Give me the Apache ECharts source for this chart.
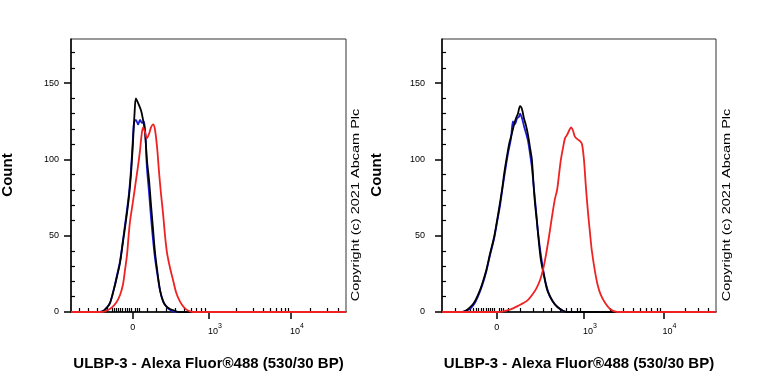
<!DOCTYPE html>
<html>
<head>
<meta charset="utf-8">
<script src="https://cdn.jsdelivr.net/npm/echarts@6/dist/echarts.min.js"></script>
<style>
html,body{margin:0;padding:0;background:#fff;}
#chart{width:768px;height:384px;}
</style>
</head>
<body>
<div id="chart"></div>
<script>
// x values are display channels (0-1000 across the logicle axis), y values are event counts
const leftBlack = [[0,0],[105,0],[120,1],[131,3],[142,6],[156,15],[167,23],[178,32],[189,46],[200,60],[211,76],[218,90],[225,110],[231,130],[236,140],[244,137],[255,132],[262,126],[269,118],[276,100],[284,86],[291,70],[298,55],[305,40],[313,28],[324,14],[335,7],[345,4],[360,2],[375,1],[389,0],[1000,0]];
const leftBlue = [[0,0],[105,0],[120,1],[131,3],[142,6],[156,15],[167,24],[178,33],[189,47],[200,62],[211,78],[218,93],[224,110],[229,124],[236,126],[244,123],[251,126],[258,124],[265,125],[271,115],[276,95],[284,78],[291,62],[298,48],[305,36],[313,26],[324,14],[335,7],[349,3],[364,1],[382,0],[1000,0]];
const leftRed = [[0,0],[113,0],[131,1],[149,3],[164,6],[178,11],[189,18],[196,27],[204,38],[209,49],[215,60],[225,72],[236,86],[244,96],[251,106],[256,115],[262,121],[269,118],[276,114],[284,117],[291,121],[298,123],[305,120],[313,108],[320,92],[327,78],[335,64],[342,50],[349,39],[360,29],[371,21],[382,13],[396,7],[411,3],[425,1],[444,0],[1000,0]];

const rightBlack = [[0,0],[73,0],[88,1],[102,3],[117,6],[131,11],[146,18],[161,27],[175,38],[190,49],[201,60],[212,72],[219,80],[228,92],[237,102],[246,111],[255,117],[263,123],[270,127],[277,130],[285,135],[292,133],[299,127],[307,122],[314,116],[321,108],[328,100],[334,84],[339,72],[347,58],[354,45],[361,34],[372,24],[383,15],[398,9],[412,5],[431,2],[456,0],[1000,0]];
const rightBlue = [[0,0],[73,0],[88,1],[102,2],[117,5],[131,10],[146,17],[161,26],[175,37],[190,48],[201,59],[212,70],[219,79],[230,92],[241,104],[252,114],[259,125],[266,123],[274,127],[281,128],[285,130],[292,127],[299,122],[307,117],[314,112],[321,104],[328,95],[336,80],[343,67],[350,53],[358,41],[369,28],[380,18],[394,10],[412,5],[431,2],[456,0],[1000,0]];
const rightRed = [[0,0],[212,0],[237,1],[255,2],[277,4],[299,6],[314,8],[328,11],[343,15],[358,21],[369,28],[380,38],[391,50],[401,62],[412,74],[420,80],[427,90],[434,100],[442,108],[449,114],[456,116],[464,119],[471,121],[478,119],[485,115],[496,113],[504,112],[511,110],[518,100],[526,80],[533,65],[540,52],[547,40],[558,27],[569,17],[580,11],[595,6],[613,2],[639,0],[1000,0]];

// axis ticks (channel positions) and their labels
const leftMajorTicks = [225, 502, 800];
const rightMajorTicks = [200, 518, 808];
const xTickLabels = ['0', '10^3', '10^4'];
const leftMinorTicks = [29,63,97,130,150,158,166,172,180,188,196,204,212,218,232,240,248,278,311,345,378,411,439,457,475,487,602,663,699,724,748,766,778,790,869,930,972];
const rightMinorTicks = [47,102,114,124,134,144,152,160,168,176,184,192,210,218,224,242,285,333,370,400,431,455,473,492,504,613,662,698,723,747,765,784,796,887,935,972];
const yMajorTicks = [0, 50, 100, 150];
const yMinorTicks = [10,20,30,40,60,70,80,90,110,120,130,140,160,170];
const yMax = 179;

const xTitle = 'ULBP-3 - Alexa Fluor®488 (530/30 BP)';
const yTitle = 'Count';
const copyright = 'Copyright (c) 2021 Abcam Plc';

const FONT = 'Liberation Sans, Arial, sans-serif';

function fmtX(ticks) {
  return function (v) {
    let idx = 0, best = 1e9;
    ticks.forEach((t, i) => { if (Math.abs(t - v) < best) { best = Math.abs(t - v); idx = i; } });
    const s = xTickLabels[idx];
    if (s.indexOf('^') >= 0) {
      const p = s.split('^');
      return '{b|' + p[0] + '}{s|' + p[1] + '}';
    }
    return '{z|' + s + '}';
  };
}
const richX = {
  b: {fontSize: 9, fontFamily: FONT, color: '#000', padding: [0, 0, 0, 12], verticalAlign: 'bottom'},
  s: {fontSize: 7, fontFamily: FONT, color: '#000', verticalAlign: 'top', padding: [0, 0, 6, 0]},
  z: {fontSize: 9, fontFamily: FONT, color: '#000'}
};

function xAxes(gridIndex, major, minor) {
  return [{
    gridIndex: gridIndex, type: 'value', min: 0, max: 1000,
    name: xTitle, nameLocation: 'middle', nameGap: 44,
    nameTextStyle: {fontSize: 15, fontWeight: 'bold', fontFamily: FONT, color: '#000'},
    axisLine: {show: true, onZero: false, lineStyle: {color: '#000', width: 1.5}},
    axisTick: {show: true, customValues: major, length: 7, lineStyle: {color: '#000', width: 1.5}},
    axisLabel: {show: true, customValues: major, margin: 11, formatter: fmtX(major), rich: richX},
    splitLine: {show: false}
  }, {
    gridIndex: gridIndex, type: 'value', min: 0, max: 1000,
    axisLine: {show: false},
    axisTick: {show: true, customValues: minor, length: 4, lineStyle: {color: '#000', width: 1.2}},
    axisLabel: {show: false},
    splitLine: {show: false}
  }];
}
function yAxes(gridIndex, margin) {
  return [{
    gridIndex: gridIndex, type: 'value', min: 0, max: yMax,
    axisLine: {show: true, onZero: false, lineStyle: {color: '#000', width: 1.5}},
    axisTick: {show: true, customValues: yMajorTicks, length: 7, lineStyle: {color: '#000', width: 1.5}},
    axisLabel: {show: true, customValues: yMajorTicks, margin: margin, fontSize: 9, fontFamily: FONT, color: '#000'},
    splitLine: {show: false}
  }, {
    gridIndex: gridIndex, type: 'value', min: 0, max: yMax,
    axisLine: {show: false},
    axisTick: {show: true, customValues: yMinorTicks, length: 4, lineStyle: {color: '#000', width: 1.2}},
    axisLabel: {show: false},
    splitLine: {show: false}
  }];
}
function line(data, color, xi, yi, z) {
  return {type: 'line', data: data, xAxisIndex: xi, yAxisIndex: yi, showSymbol: false, symbol: 'none',
    smooth: 0.3, z: z, lineStyle: {color: color, width: 1.8}, animation: false};
}

const chart = echarts.init(document.getElementById('chart'), null, {renderer: 'canvas'});
chart.setOption({
  backgroundColor: '#fff',
  animation: false,
  grid: [
    {left: 71, right: 422, top: 39, bottom: 72, show: true, borderColor: '#333', borderWidth: 1, backgroundColor: 'transparent'},
    {left: 442, right: 52, top: 39, bottom: 72, show: true, borderColor: '#333', borderWidth: 1, backgroundColor: 'transparent'}
  ],
  xAxis: [].concat(xAxes(0, leftMajorTicks, leftMinorTicks), xAxes(1, rightMajorTicks, rightMinorTicks)),
  yAxis: [].concat(yAxes(0, 12), yAxes(1, 17)),
  series: [
    line(leftBlue, '#1c1cd6', 0, 0, 2),
    line(leftBlack, '#000000', 0, 0, 3),
    line(leftRed, '#ee2222', 0, 0, 4),
    line(rightBlue, '#1c1cd6', 2, 2, 2),
    line(rightBlack, '#000000', 2, 2, 3),
    line(rightRed, '#ee2222', 2, 2, 4)
  ],
  graphic: [
    {type: 'text', x: 8, y: 175, rotation: Math.PI / 2, style: {text: yTitle, fontSize: 15, fontWeight: 'bold', fontFamily: FONT, fill: '#000', align: 'center', verticalAlign: 'middle'}},
    {type: 'text', x: 377, y: 175, rotation: Math.PI / 2, style: {text: yTitle, fontSize: 15, fontWeight: 'bold', fontFamily: FONT, fill: '#000', align: 'center', verticalAlign: 'middle'}},
    {type: 'text', x: 356, y: 205, rotation: Math.PI / 2, scaleX: 1.45, style: {text: copyright, fontSize: 10, fontFamily: FONT, fill: '#000', align: 'center', verticalAlign: 'middle'}},
    {type: 'text', x: 727, y: 205, rotation: Math.PI / 2, scaleX: 1.45, style: {text: copyright, fontSize: 10, fontFamily: FONT, fill: '#000', align: 'center', verticalAlign: 'middle'}}
  ]
});
</script>
</body>
</html>
